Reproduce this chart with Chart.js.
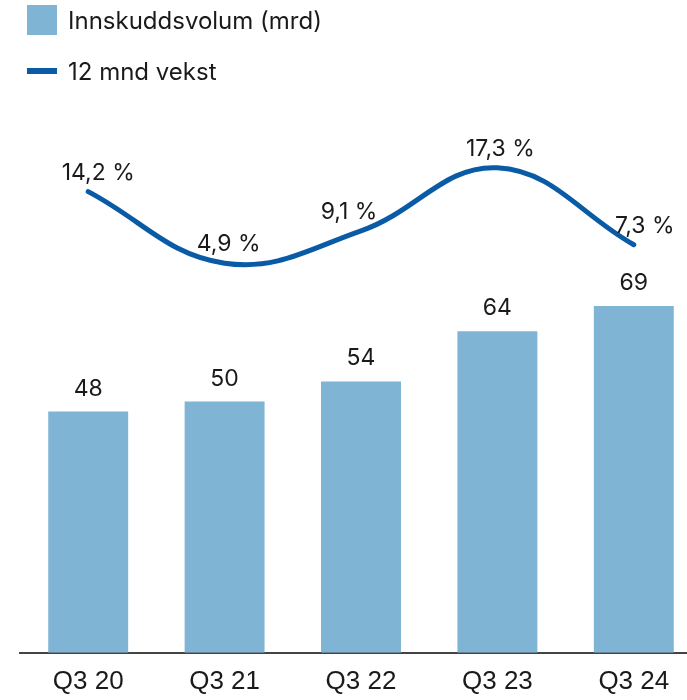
<!DOCTYPE html>
<html><head><meta charset="utf-8">
<script src="https://cdn.jsdelivr.net/npm/chart.js@4/dist/chart.umd.min.js"></script>
<style>
html,body{margin:0;padding:0;background:#fff;overflow:hidden;width:687px;height:700px;}
#wrap{position:absolute;left:0;top:0;width:720px;height:710px;}
#legend{position:absolute;left:27px;top:5px;font-family:Inter,"Open Sans",sans-serif;font-size:24px;color:#1a1a1a;z-index:2}
.li{display:flex;align-items:center;height:30px;margin-bottom:21px;}
.sw{width:30px;height:30px;background:#7fb4d4;margin-right:11px}
.ln{width:30px;height:6px;background:#0a5ba6;margin-right:11px}
</style></head>
<body>
<div id="legend">
  <div class="li"><span class="sw"></span><span id="l1"></span></div>
  <div class="li"><span class="ln"></span><span id="l2"></span></div>
</div>
<div id="wrap"><canvas id="c" width="720" height="710"></canvas></div>
<script>
const categories = ["Q3 20","Q3 21","Q3 22","Q3 23","Q3 24"];
const volume = [48, 50, 54, 64, 69];
const growth = [14.2, 4.9, 9.1, 17.3, 7.3];
const seriesNames = ["Innskuddsvolum (mrd)", "12 mnd vekst"];

document.getElementById('l1').textContent = seriesNames[0];
document.getElementById('l2').textContent = seriesNames[1];

const fmtPct = v => v.toFixed(1).replace('.', ',') + ' %';

const labelPlugin = {
  id: 'valueLabels',
  afterDatasetsDraw(chart) {
    const ctx = chart.ctx;
    ctx.save();
    ctx.font = '23px Inter, "Open Sans", sans-serif';
    ctx.fillStyle = '#1a1a1a';
    ctx.textAlign = 'center';
    ctx.textBaseline = 'alphabetic';
    const barMeta = chart.getDatasetMeta(1);
    barMeta.data.forEach((el, i) => {
      ctx.fillText(String(volume[i]), el.x, el.y - 16);
    });
    const lineMeta = chart.getDatasetMeta(0);
    const dx = [10, 4, -12, 3, 11];
    lineMeta.data.forEach((el, i) => {
      ctx.fillText(fmtPct(growth[i]), el.x + dx[i], el.y - 12);
    });
    ctx.restore();
  }
};

new Chart(document.getElementById('c'), {
  data: {
    labels: categories,
    datasets: [
      { type: 'line', label: seriesNames[1], data: growth, yAxisID: 'y2',
        borderColor: '#0a5ba6', borderWidth: 5, tension: 0.4, pointRadius: 0,
        borderCapStyle: 'round', fill: false, order: 0 },
      { type: 'bar', label: seriesNames[0], data: volume, yAxisID: 'y',
        backgroundColor: '#7fb4d4', barPercentage: 0.586, categoryPercentage: 1, order: 1 }
    ]
  },
  options: {
    responsive: false, animation: false,
    layout: { padding: { left: 20, right: 18, top: 110, bottom: 0 } },
    plugins: { legend: { display: false }, tooltip: { enabled: false } },
    scales: {
      x: {
        grid: { display: false, drawTicks: false },
        border: { display: true, color: '#444', width: 2 },
        ticks: { color: '#1a1a1a', font: { family: '"Liberation Sans", Arial, sans-serif', size: 26 }, padding: 13 }
      },
      y: { display: false, min: 0, max: 108 },
      y2: { display: false, min: -45.7, max: 24.8 }
    }
  },
  plugins: [labelPlugin]
});
</script>
</body></html>
